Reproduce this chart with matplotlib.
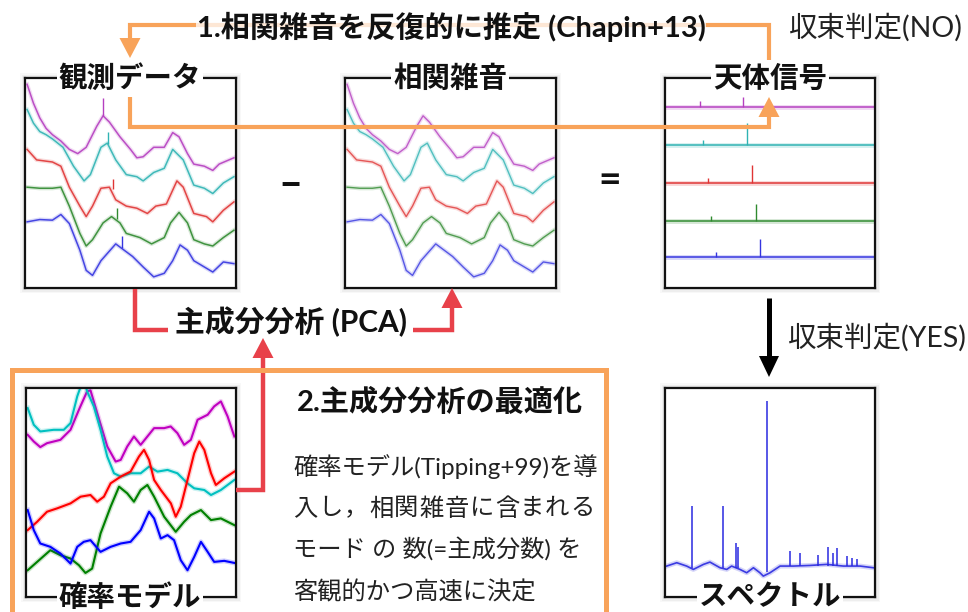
import matplotlib
matplotlib.use("Agg")
import matplotlib.pyplot as plt
from matplotlib.patches import Polygon, Rectangle
import numpy as np

W, H = 968, 612
FAM = ['Lato', 'Noto Sans CJK JP', 'DejaVu Sans']
plt.rcParams['font.family'] = FAM

# ---------------- data (panel coordinates 0..100) ----------------
COLORS_SOFT = ['#b53fc0', '#2fb3b3', '#e03535', '#2f8a2f', '#3535e0']
COLORS_PURE = ['#c000c0', '#00c0c0', '#ff0000', '#008000', '#0000ff']

# correlated noise (also base of observed data): magenta, cyan, red, green, blue
noise_x = [
    [1, 4, 7, 10, 13, 17, 21, 25, 29, 34, 37, 40, 45, 50, 53, 56, 61, 66, 70, 73, 77, 80, 85, 89, 92, 99],
    [1, 4, 7, 10, 13, 18, 23, 28, 31, 36, 39, 43, 48, 53, 56, 61, 66, 70, 75, 80, 85, 89, 94, 99],
    [1, 5.5, 13, 17, 21, 26, 29, 32, 36, 40, 43, 48, 53, 58, 62, 67, 72, 75, 80, 86, 89, 94, 99],
    [1, 7, 13, 17, 21, 26, 29, 32, 37, 41, 45, 48, 54.5, 60, 66, 69, 73, 77, 80, 85, 89, 94, 99],
    [1, 7, 13, 17, 21, 26, 29, 32, 36, 43, 47, 51, 56, 61, 66, 70, 73.5, 77, 80, 85, 89, 94, 99],
]
noise_y = [
    [97, 88, 81, 76, 73, 70, 66, 64, 67, 77, 82, 79, 72, 66, 62, 62.5, 67, 67, 74, 72, 64, 59, 58, 56, 59, 62],
    [85, 78.5, 74.5, 73, 71, 67, 58, 51, 54, 67, 69, 61, 54, 53, 51, 55, 57, 66, 61, 49, 47.5, 45, 50, 53],
    [66, 61, 60, 58, 48, 39, 34, 39, 47.5, 48, 42, 39, 38, 35.5, 39, 40, 51, 48, 35.5, 34, 31.5, 37, 41],
    [48, 47.5, 47.5, 48, 39, 26, 20, 23, 31, 34, 31, 26, 24, 21, 24, 31, 36, 31, 23, 21, 20, 24, 27.5],
    [31.5, 32.6, 32.3, 35, 30.7, 18, 8.4, 6, 13, 21, 18, 15, 10, 5.3, 7, 13, 20.5, 18, 13, 10, 7.6, 12.4, 11.6],
]
# spikes visible in the observed data
obs_spike_x = [37, 39.5, 41.5, 43.5, 46]
obs_spike_lo = [82, 68.5, 47, 33, 19]
obs_spike_hi = [90.5, 74.5, 52, 38, 25]

# astronomical signal: flat levels with spikes
sig_level = [86, 68, 50, 32, 15]
sig_spike_x = [[16.6, 37], [18, 39], [20.5, 41.5], [22, 43.5], [24.5, 45]]
sig_spike_hi = [[89, 91], [70.5, 78.5], [52.5, 58.5], [34.5, 40], [17, 23.5]]

# probabilistic model: magenta, cyan, red, green, blue
prob_x = [
    [0.8, 3.7, 6.8, 10, 16.4, 21.2, 25.2, 29.1, 30.7, 33.9, 38.7, 42.7, 45.1, 48.2, 51.4, 54.6, 57.8, 61.0, 65.8, 68.9, 72.1, 75.3, 78.5, 81.7, 86.5, 89.6, 92.8, 96.0, 99.2],
    [0.8, 3.7, 6.8, 13.2, 18, 21.2, 24.4, 27.5, 29.1, 32.3, 35.5, 38.7, 41.9, 45.1, 49.8, 54.6, 58.6, 62.6, 67.4, 72.1, 76.9, 80.1, 84.9, 88.1, 92.8, 99.2],
    [0.8, 5.3, 10, 14.8, 21.2, 26, 30.7, 33.9, 37.1, 40.3, 45.1, 49.8, 53.8, 56.2, 58.6, 61, 64.2, 69, 71.3, 73.7, 76.9, 80.1, 82.5, 84.9, 88.1, 90.4, 94.4, 99.2],
    [0.8, 5.3, 11.6, 16.4, 21.2, 25.2, 28.3, 31.5, 35.5, 40.3, 44.3, 48.2, 51.4, 54.6, 57.8, 61, 65.8, 71.3, 75.3, 78.5, 83.3, 88.1, 92.8, 99.2],
    [0.8, 3.7, 6.8, 11.6, 16.4, 21.2, 24.4, 27.5, 30.7, 35.5, 40.3, 45.1, 49.8, 54.6, 58.6, 61, 64.2, 67.4, 70.5, 73.7, 76.9, 80.1, 83.3, 86.5, 89.6, 94.4, 99.2],
]
prob_y = [
    [77.6, 74.4, 71.7, 73.6, 75.2, 80, 89.6, 98.4, 98.9, 88, 72, 64.8, 65.6, 72, 76.8, 72.8, 76.8, 80.8, 80.8, 81.6, 78.4, 72.8, 75.2, 84.8, 87.2, 91.2, 93.6, 86.4, 76.8],
    [90.4, 82.4, 79.2, 80, 80, 83.2, 96, 104.8, 98.4, 91.2, 80, 67.2, 59.2, 57.6, 59.2, 59.2, 62.4, 60, 60.8, 59.2, 54.4, 52, 51.2, 48.8, 51.2, 56],
    [32, 36, 40.8, 42.4, 44.8, 48, 48.8, 45.6, 48, 54.4, 57.6, 60, 67.2, 70.4, 65.6, 56, 51.2, 44.8, 38.4, 43.2, 56, 68.8, 74.4, 70.4, 59.2, 53.6, 56.8, 60],
    [12.8, 16.8, 22.4, 20, 18.4, 15.2, 11.5, 13.6, 30.4, 43.2, 52.8, 49.6, 45.6, 51.2, 53.6, 48, 38.4, 31.2, 36, 39.2, 41.6, 36.8, 37.6, 34.4],
    [41.6, 32, 25.6, 24, 20.8, 16, 24, 26.4, 27.2, 21.6, 24, 25.6, 26.4, 32, 40.8, 37.6, 28, 29.6, 27.2, 17.6, 12.8, 19.2, 26.4, 21.6, 16.8, 17.3, 16.3],
]

# spectrum
spec_x = [0.8, 5.6, 10.3, 13.5, 18.3, 21.4, 26.2, 29.4, 31.7, 35.7, 38.9, 42.1, 45.2, 46.8, 50, 52.4, 54.8, 61.1, 69, 77, 84.9, 92.9, 99.2]
spec_y = [14.8, 16.4, 14.8, 13.2, 15.6, 16.7, 14, 13.2, 14.8, 13.2, 11.6, 14, 11.6, 10, 11.6, 13.2, 14.8, 14.8, 15.1, 15.6, 14.8, 14.8, 14]
line_x = [12.7, 27.8, 33.6, 34.6, 48.7, 59.5, 64.3, 73, 77.8, 79.8, 82, 86.5, 88.9, 91.3]
line_lo = [14, 14, 14, 14, 12, 15, 15, 15, 15, 15, 15, 15, 15, 15]
line_hi = [43.5, 43.5, 26, 24, 93.6, 22, 21, 20, 24, 21, 23.5, 19.6, 18.8, 18]

ORANGE = '#f8a35a'
RED = '#e8414a'

fig = plt.figure(figsize=(W / 100, H / 100), dpi=100)

bg = fig.add_axes([0, 0, 1, 1], zorder=0)
bg.set_xlim(0, W); bg.set_ylim(H, 0); bg.axis('off')


def panel(x0, y0, x1, y1):
    # soft shadow
    for i, a in zip([5, 3.5, 2], [0.05, 0.08, 0.12]):
        bg.add_patch(Rectangle((x0 - i, y0 - i), (x1 - x0) + 2 * i, (y1 - y0) + 2 * i,
                               facecolor='#808080', edgecolor='none', alpha=a))
    ax = fig.add_axes([x0 / W, 1 - y1 / H, (x1 - x0) / W, (y1 - y0) / H], zorder=2)
    ax.set_xlim(0, 100); ax.set_ylim(0, 100)
    ax.set_xticks([]); ax.set_yticks([])
    for s in ax.spines.values():
        s.set_linewidth(1.6); s.set_color('#111111')
    ax.set_facecolor('white')
    return ax


def fuzzy(ax, x, y, c, lw=1.1, glow=3.0, ga=0.18, alpha=0.9):
    ax.plot(x, y, color=c, lw=glow, alpha=ga, solid_joinstyle='round')
    ax.plot(x, y, color=c, lw=lw, alpha=alpha, solid_joinstyle='round')


# observed data
ax_obs = panel(25, 78, 236, 288)
for i in range(5):
    fuzzy(ax_obs, noise_x[i], noise_y[i], COLORS_SOFT[i])
    ax_obs.vlines(obs_spike_x[i], obs_spike_lo[i], obs_spike_hi[i], color=COLORS_SOFT[i], lw=1.0)

# correlated noise
ax_noise = panel(345, 78, 556, 288)
for i in range(5):
    fuzzy(ax_noise, noise_x[i], noise_y[i], COLORS_SOFT[i], lw=1.0, alpha=0.8)

# signal
ax_sig = panel(665, 78, 875, 288)
for i in range(5):
    fuzzy(ax_sig, [0, 100], [sig_level[i], sig_level[i]], COLORS_SOFT[i], lw=1.2, glow=3.5, ga=0.2)
    ax_sig.vlines(sig_spike_x[i], sig_level[i], sig_spike_hi[i], color=COLORS_SOFT[i], lw=1.0)

# probabilistic model
ax_prob = panel(26, 388, 236, 597)
for i in range(5):
    fuzzy(ax_prob, prob_x[i], prob_y[i], COLORS_PURE[i], lw=1.5, glow=3.5, ga=0.2, alpha=1.0)

# spectrum
ax_spec = panel(665, 388, 875, 597)
fuzzy(ax_spec, spec_x, spec_y, '#2a2ae0', lw=1.2, glow=3.5, ga=0.2)
ax_spec.vlines(line_x, line_lo, line_hi, color='#2a2ae0', lw=1.1)

# ---------------- overlay: arrows and text ----------------
ov = fig.add_axes([0, 0, 1, 1], zorder=10)
ov.set_xlim(0, W); ov.set_ylim(H, 0); ov.axis('off'); ov.patch.set_alpha(0)


def path(xs, ys, c, lw):
    ov.plot(xs, ys, color=c, lw=lw, solid_joinstyle='miter', solid_capstyle='butt')


def head(x, ytip, direction, c, hw=10.5, hl=20):
    if direction == 'down':
        pts = [(x - hw, ytip - hl), (x + hw, ytip - hl), (x, ytip)]
    else:
        pts = [(x - hw, ytip + hl), (x + hw, ytip + hl), (x, ytip)]
    ov.add_patch(Polygon(pts, closed=True, facecolor=c, edgecolor='none'))


# orange loop
path([769, 769, 130, 130], [60, 25, 25, 42], ORANGE, 3.0)
head(130, 58, 'down', ORANGE)
path([130, 130, 769, 769], [97, 127, 127, 115], ORANGE, 3.0)
head(769, 97, 'up', ORANGE)

# red PCA path
path([135, 135, 168], [289, 330, 330], RED, 3.2)
path([413, 452, 452], [330, 330, 306], RED, 3.2)
head(452, 288, 'up', RED)
path([236, 263, 263], [490, 490, 354], RED, 3.2)
head(263, 338, 'up', RED)

# black arrow
path([769, 769], [298, 360], 'black', 3.6)
head(769, 377, 'down', 'black', hw=10, hl=21)

# orange box
ov.plot([12, 12, 606, 606], [620, 370, 370, 620], color=ORANGE, lw=3.6,
        solid_joinstyle='miter')

# texts
lab = dict(ha='center', va='center', fontsize=20.5, fontweight='bold', color='#111111',
           bbox=dict(facecolor='white', edgecolor='none', pad=1.5))
ov.text(130, 78, '観測データ', **lab)
ov.text(450, 78, '相関雑音', **lab)
ov.text(770, 78, '天体信号', **lab)
ov.text(130, 597, '確率モデル', **lab)
ov.text(770, 597, 'スペクトル', **lab)

ov.text(451, 27, '1.相関雑音を反復的に推定 (Chapin+13)', ha='center', va='center',
        fontsize=21, fontweight='bold', color='#111111',
        bbox=dict(facecolor='white', edgecolor='none', alpha=0.75, pad=0.5))
ov.text(876, 27, '収束判定(NO)', ha='center', va='center', fontsize=20.5, color='#222222')
ov.text(877, 337, '収束判定(YES)', ha='center', va='center', fontsize=20.5, color='#222222')
ov.text(291, 322, '主成分分析 (PCA)', ha='center', va='center', fontsize=21.5,
        fontweight='bold', color='#111111')
ov.text(290, 185, '–', ha='center', va='center', fontsize=30, fontweight='bold', color='#111111')
ov.text(610, 181, '=', ha='center', va='center', fontsize=28, fontweight='bold', color='#111111')

ov.text(440, 402, '2.主成分分析の最適化', ha='center', va='center', fontsize=21,
        fontweight='bold', color='#111111')

body_fs = 17.5
ov.text(293, 467, '確率モデル(Tipping+99)を導', ha='left', va='center',
        fontsize=body_fs, color='#222222')
# second line is letter-spaced to fill the column
line2 = '入し，相関雑音に含まれる'
pitch = (595 - 293) / len(line2)
for j, ch in enumerate(line2):
    ov.text(293 + j * pitch + pitch / 2, 508.5, ch, ha='center', va='center',
            fontsize=body_fs, color='#222222')
ov.text(293, 550, 'モード の 数(=主成分数) を', ha='left', va='center',
        fontsize=body_fs, color='#222222')
ov.text(293, 591.5, '客観的かつ高速に決定', ha='left', va='center',
        fontsize=body_fs, color='#222222')

fig.savefig('out.png', dpi=100)
